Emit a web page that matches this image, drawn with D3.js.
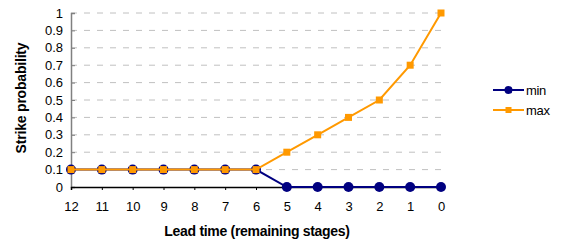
<!DOCTYPE html>
<html>
<head>
<meta charset="utf-8">
<script src="https://cdn.jsdelivr.net/npm/d3@7"></script>
<style>
  body { margin: 0; background: #fff; }
  svg { font-family: "Liberation Sans", Arial, sans-serif; }
</style>
</head>
<body>
<svg id="chart" width="561" height="242"></svg>
<script>
// data
const stages = [12, 11, 10, 9, 8, 7, 6, 5, 4, 3, 2, 1, 0]
const minValues = [0.1, 0.1, 0.1, 0.1, 0.1, 0.1, 0.1, 0, 0, 0, 0, 0, 0]
const maxValues = [0.1, 0.1, 0.1, 0.1, 0.1, 0.1, 0.1, 0.2, 0.3, 0.4, 0.5, 0.7, 1]
const yTicks = [0, 0.1, 0.2, 0.3, 0.4, 0.5, 0.6, 0.7, 0.8, 0.9, 1]

const svg = d3.select("#chart")
const plotL = 71, plotR = 441, plotT = 13, plotB = 187

const x = d3.scalePoint().domain(stages).range([plotL, plotR])
const y = d3.scaleLinear().domain([0, 1]).range([plotB, plotT])

// gridlines
svg.append("g").selectAll("line")
    .data(yTicks.filter(d => d > 0))
    .enter().append("line")
    .attr("x1", plotL).attr("x2", plotR)
    .attr("y1", d => y(d)).attr("y2", d => y(d))
    .attr("stroke", "#c0c0c0")
    .attr("stroke-dasharray", "6,7")

// y axis (ticks point inward like the original)
const yAxis = svg.append("g")
    .attr("transform", `translate(${plotL},0)`)
    .call(d3.axisLeft(y).tickValues(yTicks).tickSize(-4).tickPadding(8).tickFormat(d3.format("~g")))
yAxis.select(".domain").attr("stroke", "#808080").attr("stroke-width", 1.5)
yAxis.selectAll(".tick line").attr("stroke", "#808080")
yAxis.selectAll("text").attr("font-size", 13).attr("fill", "#000")

// x axis
const xAxis = svg.append("g")
    .attr("transform", `translate(0,${plotB})`)
    .call(d3.axisBottom(x).tickSize(3).tickPadding(12))
xAxis.select(".domain").attr("stroke", "#000").attr("stroke-width", 1.5)
xAxis.selectAll(".tick line").attr("stroke", "#000")
xAxis.selectAll("text").attr("font-size", 13).attr("fill", "#000")

// axis titles
svg.append("text")
    .attr("transform", `translate(25.5,98) rotate(-90)`)
    .attr("text-anchor", "middle")
    .attr("font-size", 14).attr("font-weight", "bold")
    .attr("letter-spacing", -0.2)
    .text("Strike probability")

svg.append("text")
    .attr("x", 257).attr("y", 236)
    .attr("text-anchor", "middle")
    .attr("font-size", 14).attr("font-weight", "bold")
    .attr("letter-spacing", -0.3)
    .text("Lead time (remaining stages)")

const line = d3.line().x((d, i) => x(stages[i])).y(d => y(d))

// min series
svg.append("path").datum(minValues)
    .attr("d", line).attr("fill", "none")
    .attr("stroke", "#000080").attr("stroke-width", 2)
svg.append("g").selectAll("circle")
    .data(minValues).enter().append("circle")
    .attr("cx", (d, i) => x(stages[i])).attr("cy", d => y(d))
    .attr("r", 5).attr("fill", "#000080")

// max series
svg.append("path").datum(maxValues)
    .attr("d", line).attr("fill", "none")
    .attr("stroke", "#ff9900").attr("stroke-width", 2)
svg.append("g").selectAll("rect")
    .data(maxValues).enter().append("rect")
    .attr("x", (d, i) => x(stages[i]) - 3.5).attr("y", d => y(d) - 3.5)
    .attr("width", 7).attr("height", 7)
    .attr("fill", "#ff9900")

// legend
const legend = [
    {name: "min", color: "#000080", shape: "circle"},
    {name: "max", color: "#ff9900", shape: "square"}
]
const lg = svg.append("g").selectAll("g")
    .data(legend).enter().append("g")
    .attr("transform", (d, i) => `translate(493,${90 + i * 20})`)
lg.append("line").attr("x1", 0).attr("x2", 31)
    .attr("stroke", d => d.color).attr("stroke-width", 2)
lg.filter(d => d.shape === "circle").append("circle")
    .attr("cx", 15.5).attr("r", 4).attr("fill", d => d.color)
lg.filter(d => d.shape === "square").append("rect")
    .attr("x", 12.5).attr("y", -3).attr("width", 6).attr("height", 6).attr("fill", d => d.color)
lg.append("text").attr("x", 33).attr("dy", "0.35em")
    .attr("font-size", 13).attr("letter-spacing", -0.3)
    .text(d => d.name)
</script>
</body>
</html>
